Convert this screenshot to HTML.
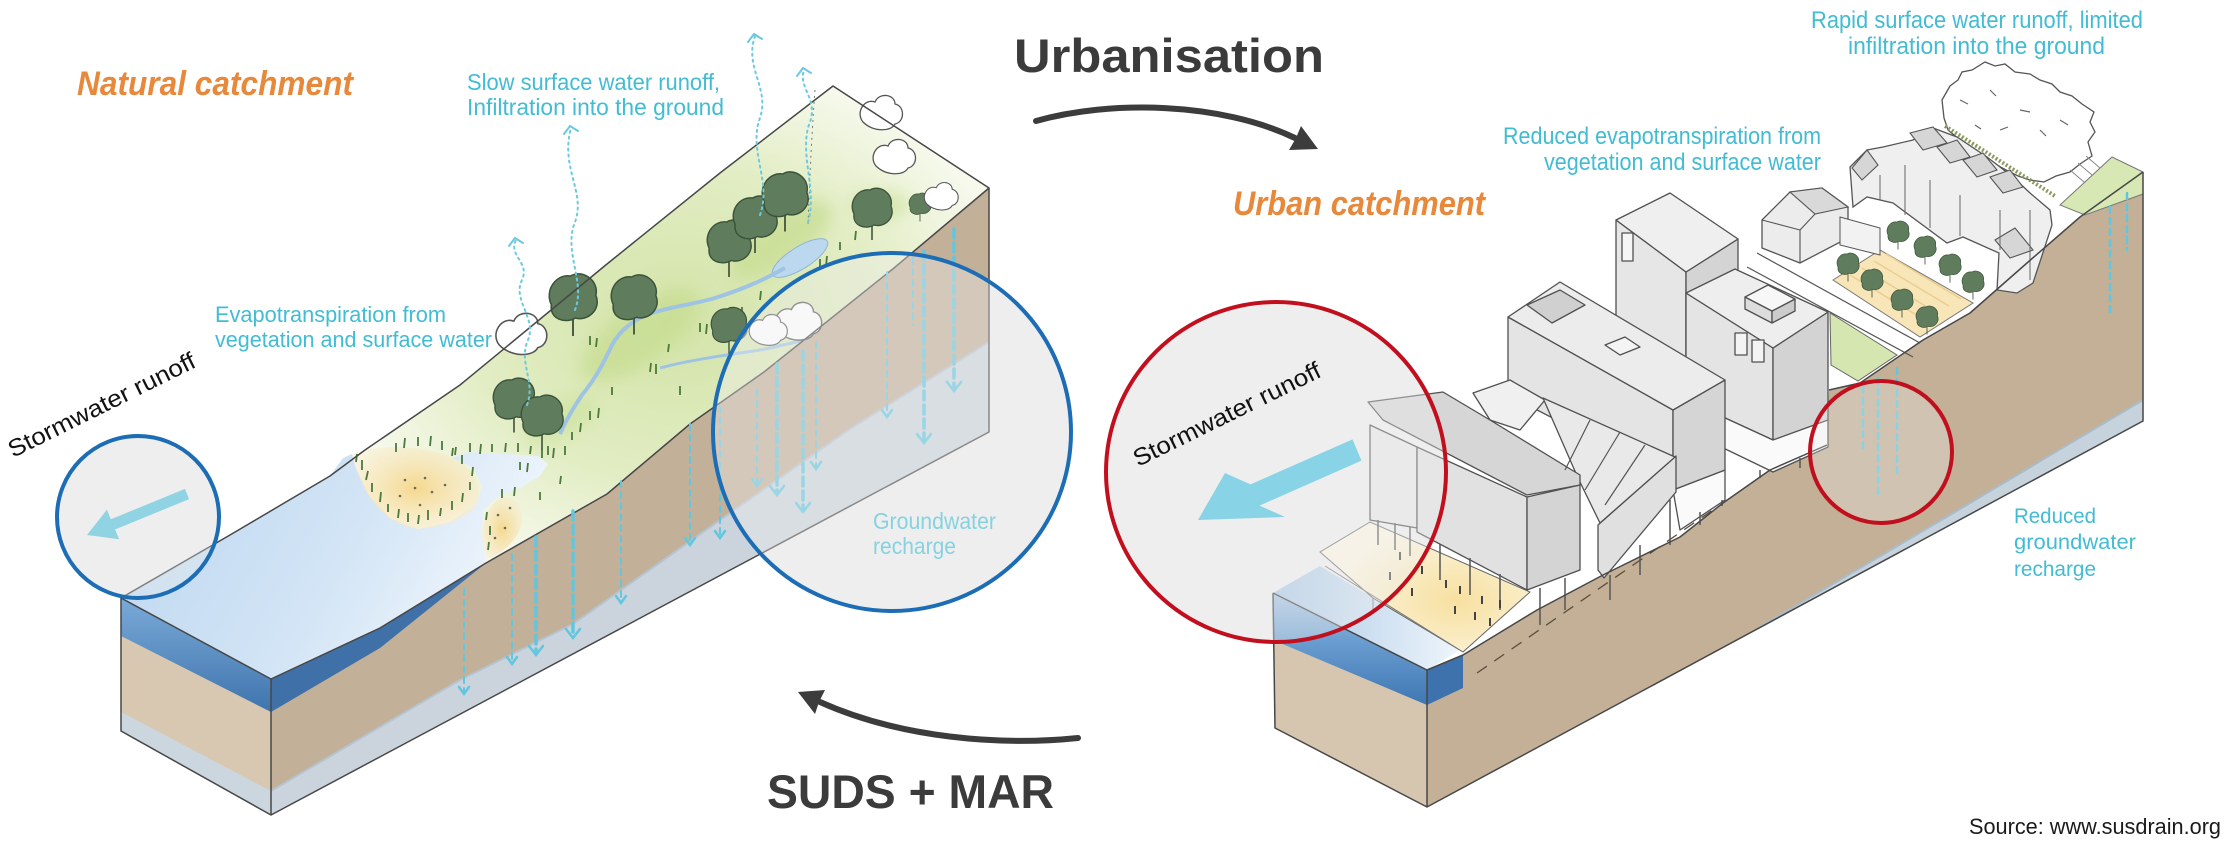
<!DOCTYPE html>
<html><head><meta charset="utf-8">
<style>
html,body{margin:0;padding:0;background:#fff;}
svg{display:block;}
text{font-family:"Liberation Sans",sans-serif;}
</style></head><body>
<svg width="2234" height="852" viewBox="0 0 2234 852" xmlns="http://www.w3.org/2000/svg">
<defs>
 <linearGradient id="wL" x1="0" y1="0" x2="1" y2="0.3"><stop offset="0" stop-color="#bcd6ef"/><stop offset="0.6" stop-color="#d3e5f6"/><stop offset="1" stop-color="#f0f6fc"/></linearGradient>
 <radialGradient id="gL" cx="0.5" cy="0.5" r="0.55"><stop offset="0" stop-color="#d3e4a8"/><stop offset="0.6" stop-color="#e2edc4"/><stop offset="1" stop-color="#f6f9ec"/></radialGradient>
 <linearGradient id="bandB" x1="0" y1="0" x2="0" y2="1"><stop offset="0" stop-color="#7aaad8"/><stop offset="1" stop-color="#3f74ad"/></linearGradient>
 <linearGradient id="bandR" x1="0" y1="0" x2="0" y2="1"><stop offset="0" stop-color="#a9c6e2"/><stop offset="0.4" stop-color="#6c9fd2"/><stop offset="1" stop-color="#3f77b3"/></linearGradient>
 <linearGradient id="wR" x1="0" y1="0" x2="1" y2="0"><stop offset="0" stop-color="#a9c8e6"/><stop offset="1" stop-color="#eef5fb"/></linearGradient>
 <radialGradient id="plz" cx="0.65" cy="0.6" r="0.6"><stop offset="0" stop-color="#f7e0a0"/><stop offset="1" stop-color="#fcf6e4"/></radialGradient>
 <radialGradient id="sand" cx="0.5" cy="0.5" r="0.6"><stop offset="0" stop-color="#f5d88e"/><stop offset="1" stop-color="#f8efd6" stop-opacity="0.6"/></radialGradient>
 <filter id="bl" x="-50%" y="-50%" width="200%" height="200%"><feGaussianBlur stdDeviation="8"/></filter>
 <g id="tree"><line x1="0" y1="8" x2="0" y2="30" stroke="#3d4d3b" stroke-width="1.5"/><path d="M-18,4 C-24,-8 -14,-22 -2,-20 C8,-26 22,-16 19,-4 C24,8 12,18 2,15 C-6,20 -20,16 -18,4 Z" fill="#5f7d5c" stroke="#3b5339" stroke-width="1.3"/></g>
 <g id="bush"><path d="M-18,6 C-26,-4 -16,-18 -6,-14 C-2,-24 14,-22 14,-12 C24,-10 24,6 14,8 C10,16 -8,16 -18,6 Z" fill="#fff" stroke="#555" stroke-width="1.3"/></g>
</defs>
<rect width="2234" height="852" fill="#fff"/>

<circle cx="138" cy="517" r="81" fill="#eeeeee"/>
<circle cx="892" cy="432" r="179" fill="#eeeeee"/>
<circle cx="1276" cy="472" r="170" fill="#eeeeee"/>

<!-- LEFT BLOCK -->
<polygon points="121,598 271,679 271,815 121,731" fill="#d8c8b1"/>
<polygon points="121,598 271,679 271,712 121,636" fill="url(#bandB)"/>
<polygon points="121,712 271,791 271,815 121,731" fill="#cbd6df"/>
<polygon points="271,679 380,628 486,563 607,494 690,424 764,372 894,268 989,188 989,432 271,815" fill="#c3b098"/>
<polygon points="271,679 380,628 486,563 380,648 271,712" fill="#3f70a7"/>
<polygon points="271,791 460,680 573,624 720,520 850,429 989,342 989,432 271,815" fill="#cbd4dc"/>
<polyline points="271,791 460,680 573,624 720,520 850,429 989,342" fill="none" stroke="#b4c4d2" stroke-width="2"/>
<polygon points="121,598 271,679 380,628 486,563 607,494 690,424 764,372 894,268 989,188 833,86 720,173 607,264 460,385 365,450 330,476 230,535" fill="#fafcf5"/>
<polygon points="365,450 460,385 607,264 720,173 833,86 989,188 894,268 764,372 690,424 607,494 486,563 482,540 470,515 445,506 420,500 398,484 380,465" fill="url(#gL)"/>
<g filter="url(#bl)" opacity="0.75">
 <ellipse cx="640" cy="335" rx="70" ry="28" transform="rotate(-35 640 335)" fill="#c7dd92"/>
 <ellipse cx="780" cy="240" rx="60" ry="24" transform="rotate(-35 780 240)" fill="#c7dd92"/>
 <ellipse cx="560" cy="420" rx="40" ry="18" transform="rotate(-30 560 420)" fill="#cfe3a0"/>
 <ellipse cx="880" cy="205" rx="30" ry="14" fill="#cfe3a0"/>
</g>
<polygon points="121,598 271,679 380,628 486,563 484,548 482,530 484,510 498,497 520,488 540,476 548,464 538,456 505,454 470,452 452,458 474,468 482,486 476,505 450,522 418,529 390,518 368,494 356,468 352,454 343,458 330,476 230,535" fill="url(#wL)"/>
<path d="M352,454 C370,446 420,442 452,458 C474,468 484,488 476,505 C466,520 440,528 418,529 C396,526 378,512 368,494 C360,480 354,466 352,454 Z" fill="url(#sand)"/>
<path d="M484,548 C480,530 482,512 498,500 C510,494 522,500 522,514 C524,532 510,550 486,560 Z" fill="url(#sand)"/>
<g fill="#6a6a5a">
 <circle cx="405" cy="480" r="1.3"/><circle cx="415" cy="488" r="1.3"/><circle cx="425" cy="478" r="1.3"/><circle cx="432" cy="492" r="1.3"/><circle cx="445" cy="485" r="1.3"/><circle cx="400" cy="496" r="1.3"/><circle cx="420" cy="505" r="1.3"/><circle cx="498" cy="515" r="1.3"/><circle cx="505" cy="528" r="1.3"/><circle cx="495" cy="538" r="1.3"/><circle cx="510" cy="508" r="1.3"/>
</g>
<ellipse cx="800" cy="258" rx="32" ry="11" transform="rotate(-32 800 258)" fill="#bcd8ee" stroke="#8fb5d6" stroke-width="1"/>
<path d="M785,268 C760,282 740,290 715,298 C695,304 675,306 655,312 C635,318 620,330 612,345 C604,362 596,378 582,395 C572,410 565,422 560,434" fill="none" stroke="#9fc4e3" stroke-width="4"/>
<path d="M660,368 C690,360 720,356 760,350 C780,346 795,342 805,340" fill="none" stroke="#9fc4e3" stroke-width="3"/>
<path d="M815,90 C812,130 810,170 808,225" fill="none" stroke="#777" stroke-width="1" stroke-dasharray="2,4"/>
<path d="M356,462 l1,-8 M362,470 l0,-10 M366,480 l2,-9 M372,492 l0,-9 M380,502 l1,-10 M388,512 l0,-8 M398,518 l1,-9 M408,522 l0,-9 M418,524 l1,-9 M428,520 l0,-10 M440,516 l1,-8 M452,510 l0,-9 M462,502 l1,-9 M470,490 l0,-8 M472,476 l1,-9 M462,464 l0,-9 M452,456 l1,-8 M396,452 l0,-9 M404,448 l1,-10 M418,446 l0,-9 M430,446 l1,-10 M442,450 l0,-9 M455,455 l1,-8 M470,452 l0,-9 M480,454 l1,-10 M492,452 l0,-8 M505,452 l1,-9 M518,452 l0,-9 M530,454 l1,-8 M542,458 l0,-9 M486,520 l1,-8 M490,535 l0,-9 M488,550 l1,-8 M502,498 l0,-9 M514,496 l1,-9 M520,470 l0,-8 M527,472 l1,-9 M548,455 l0,-9 M553,458 l1,-10 M590,420 l0,-9 M598,418 l1,-10 M612,395 l0,-8 M650,372 l1,-9 M656,374 l0,-10 M668,352 l1,-8 M700,332 l0,-9 M706,334 l1,-10 M742,316 l0,-9 M760,300 l1,-9 M820,268 l0,-9 M826,266 l1,-10 M840,250 l0,-8 M855,240 l1,-9 M590,345 l0,-9 M596,347 l1,-9 M680,395 l0,-9 M540,500 l0,-8 M560,484 l1,-8 M572,440 l0,-8 M580,432 l1,-9 M565,455 l0,-9" stroke="#4c7a3c" stroke-width="1.8" fill="none"/>
<use href="#tree" transform="translate(573,300) scale(1.2)"/>
<use href="#tree" transform="translate(634,300) scale(1.15)"/>
<use href="#tree" transform="translate(729,244) scale(1.1)"/>
<use href="#tree" transform="translate(755,220) scale(1.1)"/>
<use href="#tree" transform="translate(785,197) scale(1.15)"/>
<use href="#tree" transform="translate(729,327) scale(0.9)"/>
<use href="#tree" transform="translate(872,210) scale(1.0)"/>
<use href="#tree" transform="translate(920,205) scale(0.55)"/>
<use href="#tree" transform="translate(514,401) scale(1.05)"/>
<use href="#tree" transform="translate(542,418) scale(1.05)"/>
<use href="#bush" transform="translate(521,338) scale(1.2)"/>
<use href="#bush" transform="translate(881,116) scale(1.0)"/>
<use href="#bush" transform="translate(894,160) scale(1.0)"/>
<use href="#bush" transform="translate(941,199) scale(0.8)"/>
<use href="#bush" transform="translate(798,325) scale(1.1)"/>
<use href="#bush" transform="translate(768,333) scale(0.9)"/>
<g fill="none" stroke="#474747" stroke-width="1.5" stroke-linejoin="round">
 <polyline points="121,598 121,731 271,815 989,432 989,188"/>
 <polyline points="121,598 271,679 271,815"/>
 <polyline points="271,679 380,628 486,563 607,494 690,424 764,372 894,268 989,188 833,86 720,173 607,264 460,385 365,450 330,476 230,535 121,598"/>
</g>
<g fill="none" stroke="#62c6df" stroke-linecap="round">
 <g stroke-width="2" stroke-dasharray="6,5">
  <line x1="464" y1="589" x2="464" y2="693"/><line x1="512" y1="554" x2="512" y2="663"/>
  <line x1="621" y1="481" x2="621" y2="602"/><line x1="690" y1="424" x2="690" y2="544"/>
  <line x1="720" y1="407" x2="720" y2="537"/><line x1="757" y1="390" x2="757" y2="485"/>
  <line x1="816" y1="342" x2="816" y2="468"/><line x1="887" y1="272" x2="887" y2="416"/>
  <line x1="913" y1="258" x2="913" y2="325"/>
 </g>
 <g stroke-width="3.5" stroke-dasharray="9,5">
  <line x1="536" y1="537" x2="536" y2="654"/><line x1="573" y1="511" x2="573" y2="637"/>
  <line x1="777" y1="364" x2="777" y2="494"/><line x1="803" y1="351" x2="803" y2="511"/>
  <line x1="924" y1="251" x2="924" y2="442"/><line x1="954" y1="229" x2="954" y2="390"/>
 </g>
 <g stroke-width="2.5">
  <polyline points="459,687 464,694 469,687"/><polyline points="507,657 512,664 517,657"/>
  <polyline points="529,646 536,655 543,646"/><polyline points="566,629 573,638 580,629"/>
  <polyline points="616,596 621,603 626,596"/><polyline points="685,538 690,545 695,538"/>
  <polyline points="715,531 720,538 725,531"/><polyline points="752,479 757,486 762,479"/>
  <polyline points="770,486 777,495 784,486"/><polyline points="796,503 803,512 810,503"/>
  <polyline points="811,462 816,469 821,462"/><polyline points="882,410 887,417 892,410"/>
  <polyline points="917,434 924,443 931,434"/><polyline points="947,382 954,391 961,382"/>
 </g>
</g>
<g fill="none" stroke="#6cc9df" stroke-width="2" stroke-linecap="round">
 <path d="M527,405 C536,382 518,362 528,340 C537,318 512,300 522,280 C530,262 508,256 516,240" stroke-dasharray="2,4"/>
 <path d="M575,310 C586,282 563,252 575,222 C586,192 560,168 571,128" stroke-dasharray="2,4"/>
 <path d="M760,215 C772,182 748,150 760,118 C770,88 744,68 755,36" stroke-dasharray="2,4"/>
 <path d="M808,222 C818,190 798,152 810,122 C818,98 798,88 804,70" stroke-dasharray="2,4"/>
 <polyline points="509,246 515,238 523,243"/><polyline points="564,134 570,126 578,131"/>
 <polyline points="748,42 754,34 762,39"/><polyline points="797,76 803,68 811,73"/>
</g>

<!-- RIGHT BLOCK -->
<polygon points="1273,593 1427,670 1427,807 1275,728" fill="#d7c6af"/>
<polygon points="1273,593 1427,670 1427,705 1273,640" fill="url(#bandR)"/>
<polygon points="1427,670 1463,655 1537,610 1603,575 1680,537 1723,503 1770,470 1827,445 1829,390 1860,383 1923,340 1970,313 2027,263 2080,217 2143,172 2143,421 1427,807" fill="#c3b097"/>
<polygon points="1427,670 1463,655 1463,688 1427,705" fill="#3d72ad"/>
<polygon points="1760,627 1950,515 2143,400 2143,421 1760,628" fill="#c7d3dc"/>
<polyline points="1760,627 1950,515 2143,400" fill="none" stroke="#a9bccb" stroke-width="2"/>
<path d="M1477,673 L1717,507" stroke="#5d4d3d" stroke-width="1.3" stroke-dasharray="12,9" fill="none"/>
<polygon points="1273,593 1320,566 1460,650 1427,670" fill="url(#wR)"/>
<polygon points="1320,552 1370,522 1530,592 1463,652 1373,598" fill="url(#plz)" stroke="#666" stroke-width="1"/>
<line x1="1325" y1="566" x2="1463" y2="652" stroke="#777" stroke-width="1"/>
<line x1="1373" y1="598" x2="1373" y2="612" stroke="#777" stroke-width="1"/>
<path d="M1942,100 L1950,86 L1958,80 L1962,72 L1972,70 L1985,62 L1995,66 L2005,64 L2015,72 L2030,74 L2040,80 L2052,84 L2060,92 L2072,96 L2082,104 L2094,112 L2090,122 L2095,132 L2088,142 L2092,156 L2080,164 L2070,172 L2056,176 L2044,182 L2030,180 L2018,176 L2006,170 L1995,164 L1982,158 L1970,150 L1960,140 L1948,130 L1944,118 Z" fill="#fff" stroke="#555" stroke-width="1.3"/>
<path d="M1960,100 l8,4 M1990,90 l6,6 M2020,110 l10,2 M2040,130 l6,6 M2000,130 l8,-3 M2060,120 l8,5 M1975,125 l6,4" stroke="#666" stroke-width="1.2"/>
<line x1="1945" y1="126" x2="2055" y2="196" stroke="#8a9a5e" stroke-width="4" stroke-dasharray="2,2"/>
<polygon points="2060,205 2112,157 2143,172 2143,194 2085,215" fill="#d8e8b4" stroke="#777" stroke-width="1"/>
<path d="M2070,170 l14,12 M2078,163 l14,12 M2086,156 l14,12" stroke="#888" stroke-width="1"/>
<polygon points="1850,167 1867,150 1883,147 1913,140 1933,128 1957,137 1987,157 2013,177 2030,193 2050,210 2052,225 2033,283 2017,293 1997,290 1999,253 1963,237 1947,243 1893,203 1867,197 1853,207" fill="#efefef" stroke="#555" stroke-width="1.3"/>
<g fill="#d6d6d6" stroke="#555" stroke-width="1.1">
 <polygon points="1910,133 1933,127 1947,143 1923,150"/>
 <polygon points="1937,147 1957,140 1970,157 1950,163"/>
 <polygon points="1963,160 1983,153 1997,170 1977,177"/>
 <polygon points="1990,177 2010,170 2023,187 2003,193"/>
 <polygon points="1852,168 1867,150 1878,165 1862,180"/>
 <polygon points="1995,240 2015,228 2033,250 2010,258"/>
</g>
<path d="M1880,175 L1880,200 M1905,165 L1905,215 M1930,180 L1930,228 M1960,195 L1960,236 M2000,210 L2000,250 M2030,210 L2030,280" stroke="#666" stroke-width="1"/>
<polygon points="1762,220 1790,192 1822,188 1848,207 1848,238 1800,263 1762,248" fill="#ececec" stroke="#555" stroke-width="1.3"/>
<polygon points="1790,192 1822,188 1848,207 1815,214" fill="#d9d9d9" stroke="#555" stroke-width="1.1"/>
<polyline points="1762,220 1800,230 1800,263" fill="none" stroke="#555" stroke-width="1.1"/>
<line x1="1800" y1="230" x2="1815" y2="214" stroke="#555" stroke-width="1.1"/>
<line x1="1757" y1="253" x2="1920" y2="343" stroke="#555" stroke-width="1.2"/>
<line x1="1747" y1="267" x2="1913" y2="357" stroke="#555" stroke-width="1.2"/>
<polygon points="1833,280 1880,250 1973,303 1920,337" fill="#f8e6b8" stroke="#777" stroke-width="1"/>
<path d="M1850,275 l75,45 M1862,268 l75,45 M1874,261 l75,45 M1886,254 l75,45" stroke="#e9cf8f" stroke-width="1.5"/>
<polygon points="1830,313 1897,355 1858,381 1831,365" fill="#d5e6b1" stroke="#666" stroke-width="1"/>
<polygon points="1840,217 1880,228 1880,255 1840,245" fill="#f2f2f2" stroke="#555" stroke-width="1"/>
<g>
 <use href="#tree" transform="translate(1898,233) scale(0.55)"/>
 <use href="#tree" transform="translate(1925,248) scale(0.55)"/>
 <use href="#tree" transform="translate(1950,266) scale(0.55)"/>
 <use href="#tree" transform="translate(1973,283) scale(0.55)"/>
 <use href="#tree" transform="translate(1848,265) scale(0.55)"/>
 <use href="#tree" transform="translate(1872,281) scale(0.55)"/>
 <use href="#tree" transform="translate(1902,301) scale(0.55)"/>
 <use href="#tree" transform="translate(1927,318) scale(0.55)"/>
</g>
<g stroke="#505050" stroke-width="1.3" stroke-linejoin="round">
 <polygon points="1616,220 1686,272 1686,420 1616,380" fill="#e6e6e6"/>
 <polygon points="1686,272 1738,239 1738,330 1686,360" fill="#d4d4d4"/>
 <polygon points="1616,220 1670,193 1738,239 1686,272" fill="#efefef"/>
 <rect x="1622" y="233" width="11" height="28" fill="#f5f5f5"/>
 <polygon points="1686,293 1773,348 1773,440 1686,400" fill="#e4e4e4"/>
 <polygon points="1773,348 1828,312 1828,420 1773,445" fill="#d3d3d3"/>
 <polygon points="1686,293 1735,269 1828,312 1773,348" fill="#eeeeee"/>
 <polygon points="1686,400 1773,440 1828,420 1828,447 1773,472 1686,430" fill="#fafafa"/>
 <polygon points="1745,309 1772,323 1772,311 1745,297" fill="#dddddd"/>
 <polygon points="1772,323 1795,311 1795,299 1772,311" fill="#cccccc"/>
 <polygon points="1745,297 1768,285 1795,299 1772,311" fill="#f7f7f7"/>
 <rect x="1735" y="333" width="12" height="22" fill="#f3f3f3"/>
 <rect x="1752" y="340" width="12" height="22" fill="#f3f3f3"/>
 <polygon points="1508,317 1673,410 1673,480 1508,395" fill="#e4e4e4"/>
 <polygon points="1673,490 1725,470 1725,500 1680,530" fill="#fafafa"/>
 <polygon points="1673,410 1725,380 1725,470 1673,490" fill="#d5d5d5"/>
 <polygon points="1508,317 1560,282 1725,380 1673,410" fill="#ececec"/>
 <polygon points="1527,305 1560,290 1585,305 1552,323" fill="#d0d0d0"/>
 <polygon points="1605,345 1625,337 1640,347 1620,355" fill="#f4f4f4"/>
 <polygon points="1473,393 1510,380 1545,400 1520,430 1490,420" fill="#f0f0f0"/>
 <polygon points="1598,525 1676,456 1676,492 1604,578 1598,570" fill="#e0e0e0"/>
 <polygon points="1543,398 1675,457 1600,523 1578,478" fill="#e9e9e9"/>
 <polygon points="1370,425 1417,447 1417,528 1370,520" fill="#e8e8e8"/>
 <polygon points="1417,447 1527,497 1527,590 1417,532" fill="#e1e1e1"/>
 <polygon points="1527,497 1580,485 1580,570 1527,590" fill="#d4d4d4"/>
 <polygon points="1368,402 1443,392 1490,420 1580,475 1580,485 1527,495 1383,420" fill="#d6d6d6"/>
</g>
<path d="M1565,470 L1590,420 M1585,490 L1620,432 M1605,505 L1645,445" stroke="#555" stroke-width="1.2" fill="none"/>
<g stroke="#555" stroke-width="1.5">
 <line x1="1378" y1="520" x2="1378" y2="545"/><line x1="1395" y1="523" x2="1395" y2="550"/><line x1="1410" y1="527" x2="1410" y2="556"/>
 <line x1="1440" y1="544" x2="1440" y2="580"/><line x1="1470" y1="558" x2="1470" y2="595"/><line x1="1500" y1="574" x2="1500" y2="610"/>
 <line x1="1540" y1="588" x2="1540" y2="625"/><line x1="1565" y1="578" x2="1565" y2="610"/>
 <line x1="1610" y1="575" x2="1610" y2="600"/><line x1="1640" y1="545" x2="1640" y2="575"/><line x1="1670" y1="500" x2="1670" y2="545"/>
 <line x1="1700" y1="512" x2="1700" y2="525"/><line x1="1722" y1="500" x2="1722" y2="506"/>
 <line x1="1760" y1="470" x2="1760" y2="478"/><line x1="1800" y1="458" x2="1800" y2="468"/>
</g>
<g stroke="#444" stroke-width="2">
 <path d="M1400,552 l0,8 M1422,566 l0,8 M1446,580 l0,8 M1460,586 l0,8 M1482,596 l0,8 M1500,600 l0,8 M1390,572 l0,8 M1412,588 l0,8 M1475,612 l0,8 M1490,618 l0,8 M1455,606 l0,8"/>
</g>
<g fill="none" stroke="#474747" stroke-width="1.5" stroke-linejoin="round">
 <polyline points="1273,593 1275,728 1427,807 2143,421 2143,172"/>
 <polyline points="1273,593 1427,670 1427,807"/>
 <polyline points="1427,670 1463,655 1537,610 1603,575 1680,537 1723,503 1770,470 1827,445"/>
 <polyline points="1829,390 1860,383 1923,340 1970,313 2027,263 2080,217 2143,172"/>
</g>
<g fill="none" stroke="#62c6df" stroke-linecap="round" stroke-width="2.5" stroke-dasharray="6,5">
 <line x1="1863" y1="387" x2="1863" y2="450"/><line x1="1878" y1="378" x2="1878" y2="498"/>
 <line x1="1897" y1="368" x2="1897" y2="473"/><line x1="2110" y1="207" x2="2110" y2="313"/>
 <line x1="2127" y1="193" x2="2127" y2="250"/>
</g>

<!-- OVERLAYS -->
<circle cx="138" cy="517" r="81" fill="rgba(238,238,238,0.35)" stroke="#1c6db5" stroke-width="4"/>
<circle cx="892" cy="432" r="179" fill="rgba(238,238,238,0.4)" stroke="#1c6db5" stroke-width="4"/>
<circle cx="1276" cy="472" r="170" fill="rgba(238,238,238,0.4)" stroke="#c10f1e" stroke-width="4"/>
<circle cx="1881" cy="452" r="71" fill="rgba(238,238,238,0.3)" stroke="#c10f1e" stroke-width="4"/>

<polygon points="87,535 106.9,509.6 110.9,519.3 184.9,488.9 189.1,499.1 115.1,529.5 119.1,539.2" fill="#90d4e4"/>
<polygon points="1198,520 1225,473 1250.5,484.4 1352.5,439.4 1361.5,460.6 1259.5,505.6 1285,517" fill="#88d4e6"/>

<path d="M1036,121 C1110,100 1220,102 1295,138" fill="none" stroke="#3c3c3c" stroke-width="6" stroke-linecap="round"/>
<polygon points="1318,149 1289,150 1296,138 1301,126" fill="#3c3c3c"/>
<path d="M1078,738 C1000,746 900,738 820,702" fill="none" stroke="#3c3c3c" stroke-width="6" stroke-linecap="round"/>
<polygon points="798,692 825,690 819,702 815,714" fill="#3c3c3c"/>

<!-- TEXT -->
<text x="77" y="95" font-size="34" font-weight="bold" font-style="italic" fill="#e8883a" textLength="276" lengthAdjust="spacingAndGlyphs">Natural catchment</text>
<text x="1233" y="215" font-size="34" font-weight="bold" font-style="italic" fill="#e8883a" textLength="252" lengthAdjust="spacingAndGlyphs">Urban catchment</text>
<text x="1014" y="72" font-size="47" font-weight="bold" fill="#3b3b3b" textLength="310" lengthAdjust="spacingAndGlyphs">Urbanisation</text>
<text x="767" y="808" font-size="47" font-weight="bold" fill="#3b3b3b" textLength="287" lengthAdjust="spacingAndGlyphs">SUDS + MAR</text>
<g fill="#42bcd2" font-size="23">
 <text x="467" y="90" textLength="253" lengthAdjust="spacingAndGlyphs">Slow surface water runoff,</text>
 <text x="467" y="115" textLength="257" lengthAdjust="spacingAndGlyphs">Infiltration into the ground</text>
 <text x="215" y="322" font-size="22" textLength="231" lengthAdjust="spacingAndGlyphs">Evapotranspiration from</text>
 <text x="215" y="347" font-size="22" textLength="277" lengthAdjust="spacingAndGlyphs">vegetation and surface water</text>
 <text x="1503" y="144" font-size="24" textLength="318" lengthAdjust="spacingAndGlyphs">Reduced evapotranspiration from</text>
 <text x="1544" y="170" font-size="24" textLength="277" lengthAdjust="spacingAndGlyphs">vegetation and surface water</text>
 <text x="1811" y="28" font-size="24" textLength="332" lengthAdjust="spacingAndGlyphs">Rapid surface water runoff, limited</text>
 <text x="1848" y="54" font-size="24" textLength="257" lengthAdjust="spacingAndGlyphs">infiltration into the ground</text>
 <text x="2014" y="523" font-size="21" textLength="82" lengthAdjust="spacingAndGlyphs">Reduced</text>
 <text x="2014" y="549" font-size="21" textLength="122" lengthAdjust="spacingAndGlyphs">groundwater</text>
 <text x="2014" y="576" font-size="21" textLength="82" lengthAdjust="spacingAndGlyphs">recharge</text>
</g>
<g fill="#86d2df" font-size="23">
 <text x="873" y="529" textLength="123" lengthAdjust="spacingAndGlyphs">Groundwater</text>
 <text x="873" y="554" textLength="83" lengthAdjust="spacingAndGlyphs">recharge</text>
</g>
<text x="13" y="458" font-size="24" fill="#111" transform="rotate(-26.4 13 458)" textLength="206" lengthAdjust="spacingAndGlyphs">Stormwater runoff</text>
<text x="1138" y="467" font-size="24" fill="#111" transform="rotate(-26.2 1138 467)" textLength="206" lengthAdjust="spacingAndGlyphs">Stormwater runoff</text>
<text x="1969" y="834" font-size="22" fill="#1a1a1a" textLength="252" lengthAdjust="spacingAndGlyphs">Source: www.susdrain.org</text>
</svg>
</body></html>
